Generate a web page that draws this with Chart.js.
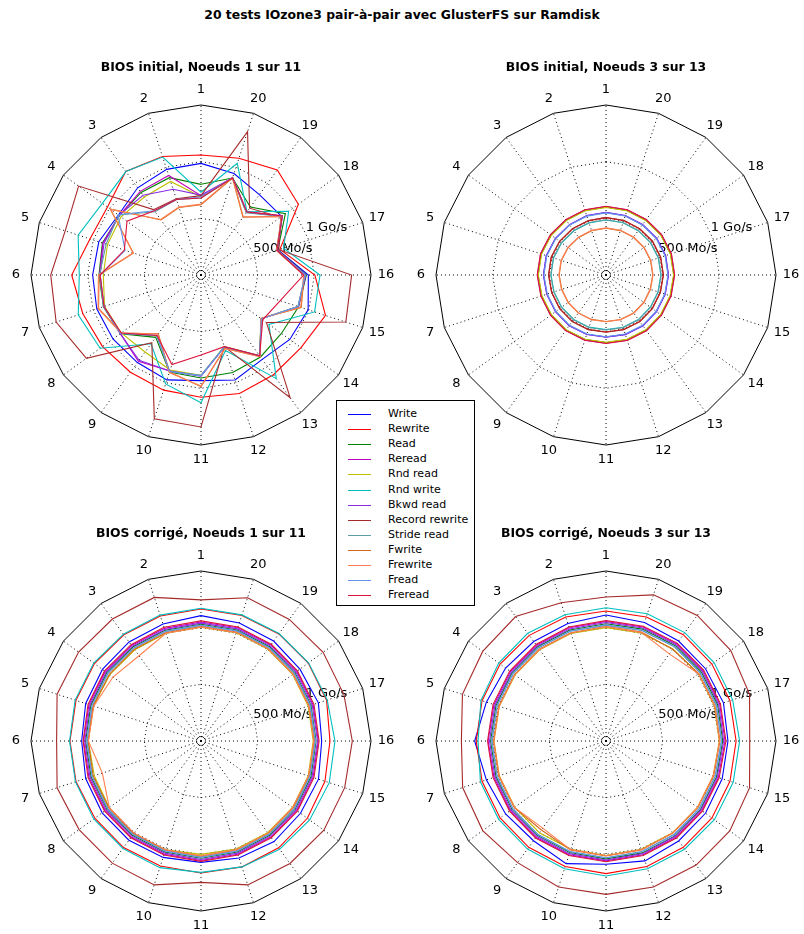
<!DOCTYPE html>
<html lang="fr">
<head>
<meta charset="UTF-8" />
<title>IOzone3 pair-à-pair GlusterFS</title>
<script src="https://cdn.jsdelivr.net/npm/chart.js"></script>
<style>
  body { margin: 0; background: #fff; font-family: "DejaVu Sans", sans-serif; }
  #page { position: relative; width: 804px; height: 934px; overflow: hidden; }
  canvas { position: absolute; }
  .title { position: absolute; width: 400px; text-align: center; font-weight: bold; font-size: 12.4px; line-height: 14px; z-index: 2; }
  #legend { position: absolute; left: 336px; top: 400px; width: 137px; height: 204px; border: 1px solid #000; background: #fff; z-index: 3; font-size: 11px; }
  #legend .row { position: absolute; left: 0; height: 14px; line-height: 14px; }
  #legend .swatch { position: absolute; left: 11px; top: 7px; width: 23px; height: 1px; }
  #legend .txt { position: absolute; left: 51px; top: 0; white-space: nowrap; }
</style>
</head>
<body>
<div id="page">
  <div class="title" style="left:202px; top:8px;">20 tests IOzone3 pair-à-pair avec GlusterFS sur Ramdisk</div>
  <div class="title" style="left:1px; top:60px;">BIOS initial, Noeuds 1 sur 11</div>
  <div class="title" style="left:406px; top:60px;">BIOS initial, Noeuds 3 sur 13</div>
  <div class="title" style="left:1px; top:526px;">BIOS corrigé, Noeuds 1 sur 11</div>
  <div class="title" style="left:406px; top:526px;">BIOS corrigé, Noeuds 3 sur 13</div>
  <canvas id="c1" width="420" height="420" style="left:-9px; top:65px;"></canvas>
  <canvas id="c2" width="420" height="420" style="left:396px; top:65px;"></canvas>
  <canvas id="c3" width="420" height="420" style="left:-9px; top:531px;"></canvas>
  <canvas id="c4" width="420" height="420" style="left:396px; top:531px;"></canvas>
  <div id="legend"></div>
</div>

<script>
// tests 1..20 (axes), series and throughput in Mo/s
var tests = ["1","2","3","4","5","6","7","8","9","10","11","12","13","14","15","16","17","18","19","20"];
var series = ["Write","Rewrite","Read","Reread","Rnd read","Rnd write","Bkwd read","Record rewrite","Stride read","Fwrite","Frewrite","Fread","Freread"];
var colors = ["#0000ff","#ff0000","#008000","#bf00bf","#bfbf00","#00bfbf","#8a2be2","#a52a2a","#5f9ea0","#d2691e","#ff7f50","#6495ed","#dc143c"];
var rTicks = [0, 40, 500, 1000, 1500];
var rTickText = {500: "500 Mo/s", 1000: "1 Go/s"};

// BIOS initial, Noeuds 1 sur 11 (one row per series, tests 1..20)
var initial_1_11 = [
  [985, 980, 951, 901, 948, 956, 967, 960, 955, 973, 932, 974, 920, 968, 994, 947, 715, 880, 876, 942],
  [1059, 1100, 1130, 1020, 1030, 1141, 1097, 1074, 1060, 1068, 1079, 1100, 1088, 1091, 1155, 1005, 732, 1062, 1145, 1083],
  [800, 903, 900, 890, 915, 900, 905, 880, 680, 900, 909, 904, 894, 877, 905, 930, 712, 920, 741, 900],
  [700, 923, 912, 892, 910, 895, 900, 880, 940, 890, 892, 668, 882, 656, 905, 925, 708, 888, 690, 902],
  [690, 868, 850, 872, 868, 862, 895, 870, 840, 882, 885, 665, 880, 655, 900, 920, 705, 885, 682, 898],
  [730, 1094, 1128, 1076, 1140, 1074, 1139, 1100, 750, 1010, 1128, 700, 1130, 741, 1054, 1050, 766, 956, 690, 1036],
  [705, 795, 870, 895, 900, 890, 900, 880, 930, 890, 890, 668, 882, 658, 902, 922, 708, 886, 685, 900],
  [700, 706, 713, 1335, 1260, 1326, 1344, 1250, 738, 1333, 1341, 665, 1338, 714, 1344, 1329, 722, 870, 729, 1329],
  [680, 700, 690, 900, 880, 895, 905, 875, 665, 895, 885, 665, 880, 655, 900, 920, 705, 880, 680, 900],
  [620, 626, 600, 990, 627, 900, 950, 870, 641, 900, 985, 680, 890, 650, 930, 910, 700, 880, 630, 900],
  [625, 630, 605, 985, 630, 905, 955, 872, 645, 905, 980, 685, 892, 652, 925, 905, 702, 878, 635, 905],
  [690, 700, 700, 905, 704, 890, 900, 878, 660, 895, 890, 668, 882, 658, 900, 918, 706, 884, 685, 905],
  [680, 700, 700, 807, 711, 890, 900, 870, 660, 830, 706, 665, 880, 673, 735, 905, 706, 885, 688, 902]
];

// BIOS initial, Noeuds 3 sur 13
var initial_3_13 = [
  [551, 549, 547, 550, 553, 551, 548, 549, 552, 550, 547, 551, 553, 549, 548, 550, 552, 551, 548, 550],
  [506, 504, 503, 505, 507, 505, 503, 504, 506, 505, 503, 505, 507, 504, 503, 505, 506, 505, 504, 505],
  [600, 598, 597, 599, 601, 600, 597, 598, 600, 599, 597, 600, 601, 598, 597, 599, 600, 600, 598, 599],
  [605, 603, 602, 604, 606, 605, 602, 603, 605, 604, 602, 605, 606, 603, 602, 604, 605, 605, 603, 604],
  [597, 595, 594, 596, 598, 597, 594, 595, 597, 596, 594, 597, 598, 595, 594, 596, 597, 597, 595, 596],
  [485, 483, 482, 484, 486, 485, 482, 483, 485, 484, 482, 485, 486, 483, 482, 484, 485, 485, 483, 484],
  [553, 551, 549, 552, 555, 553, 550, 551, 554, 552, 549, 553, 555, 551, 550, 552, 554, 553, 550, 552],
  [508, 506, 505, 507, 509, 508, 505, 506, 508, 507, 505, 508, 509, 506, 505, 507, 508, 508, 506, 507],
  [488, 486, 485, 487, 489, 488, 485, 486, 488, 487, 485, 488, 489, 486, 485, 487, 488, 488, 486, 487],
  [413, 411, 410, 412, 414, 413, 410, 411, 413, 412, 410, 413, 414, 411, 410, 412, 413, 413, 411, 412],
  [416, 414, 413, 415, 417, 416, 413, 414, 416, 415, 413, 416, 417, 414, 413, 415, 416, 416, 414, 415],
  [548, 546, 545, 547, 549, 548, 545, 546, 548, 547, 545, 548, 549, 546, 545, 547, 548, 548, 546, 547],
  [607, 605, 604, 606, 608, 607, 604, 605, 607, 606, 604, 607, 608, 605, 604, 606, 607, 607, 605, 606]
];

// BIOS corrigé, Noeuds 1 sur 11
var corrige_1_11 = [
  [1106, 1085, 1080, 1075, 1070, 1053, 1070, 1078, 1082, 1080, 1071, 1085, 1097, 1085, 1090, 1065, 1089, 1079, 1090, 1095],
  [1165, 1160, 1158, 1162, 1160, 1156, 1160, 1158, 1162, 1160, 1165, 1168, 1165, 1160, 1150, 1138, 1165, 1170, 1168, 1165],
  [1030, 1028, 1025, 1026, 1022, 1018, 1020, 1025, 1028, 1030, 1035, 1030, 1028, 1025, 1020, 1015, 1020, 1025, 1028, 1030],
  [1050, 1045, 1042, 1045, 1040, 1035, 1040, 1045, 1048, 1050, 1055, 1050, 1048, 1045, 1040, 1035, 1040, 1045, 1048, 1050],
  [1003, 1000, 995, 995, 998, 994, 990, 1000, 1015, 1010, 1000, 1002, 1000, 998, 995, 990, 995, 1000, 1002, 1005],
  [1171, 1168, 1165, 1170, 1168, 1160, 1165, 1170, 1172, 1175, 1159, 1168, 1180, 1185, 1190, 1182, 1171, 1173, 1172, 1170],
  [1040, 1035, 1032, 1035, 1030, 1025, 1030, 1035, 1038, 1040, 1045, 1040, 1038, 1035, 1030, 1028, 1032, 1035, 1038, 1040],
  [1245, 1332, 1330, 1335, 1335, 1274, 1335, 1330, 1332, 1335, 1247, 1335, 1336, 1340, 1333, 1335, 1326, 1332, 1326, 1329],
  [1020, 1015, 1012, 1015, 1010, 1005, 1010, 1015, 1018, 1020, 1025, 1020, 1018, 1015, 1010, 1008, 1012, 1015, 1018, 1020],
  [1010, 1005, 1000, 1000, 1000, 995, 1000, 1005, 1010, 1012, 1015, 1010, 1008, 1005, 1000, 998, 1002, 1005, 1008, 1010],
  [1005, 1000, 930, 960, 995, 994, 915, 1000, 1005, 1010, 1012, 1008, 1005, 1000, 998, 995, 1000, 1003, 1005, 1008],
  [1022, 1018, 1015, 1018, 1012, 1008, 1012, 1018, 1020, 1022, 1028, 1022, 1020, 1018, 1012, 1010, 1015, 1018, 1020, 1022],
  [1060, 1055, 1050, 1052, 1048, 1040, 1048, 1052, 1055, 1058, 1062, 1058, 1055, 1052, 1048, 1042, 1048, 1052, 1055, 1058]
];

// BIOS corrigé, Noeuds 3 sur 13
var corrige_3_13 = [
  [1112, 1090, 1085, 1095, 1110, 1159, 1110, 1095, 1088, 1138, 1088, 1112, 1090, 1085, 1078, 1076, 1090, 1085, 1090, 1100],
  [1147, 1150, 1152, 1155, 1150, 1145, 1150, 1155, 1160, 1165, 1170, 1165, 1160, 1155, 1150, 1148, 1150, 1155, 1160, 1150],
  [1035, 1030, 1028, 1025, 1020, 1018, 1020, 1025, 1028, 1035, 1040, 1038, 1035, 1030, 1025, 1030, 1035, 1038, 1040, 1038],
  [1055, 1050, 1045, 1042, 1040, 1040, 1040, 1045, 1050, 1055, 1058, 1055, 1050, 1045, 1042, 1050, 1055, 1058, 1060, 1058],
  [1000, 998, 995, 992, 990, 988, 990, 995, 1000, 1005, 1010, 1005, 1000, 998, 995, 1000, 1005, 1008, 1005, 1002],
  [1176, 1172, 1175, 1170, 1160, 1129, 1165, 1172, 1178, 1185, 1191, 1185, 1180, 1182, 1180, 1179, 1175, 1178, 1182, 1180],
  [1045, 1040, 1035, 1032, 1030, 1028, 1030, 1035, 1040, 1045, 1050, 1045, 1040, 1035, 1032, 1038, 1045, 1048, 1050, 1048],
  [1271, 1282, 1357, 1345, 1332, 1276, 1330, 1345, 1327, 1354, 1353, 1354, 1353, 1350, 1332, 1268, 1332, 1360, 1370, 1356],
  [1020, 1018, 1015, 1012, 1010, 1005, 1010, 1015, 1020, 1025, 1030, 1025, 1020, 1015, 1012, 1018, 1022, 1025, 1028, 1025],
  [1010, 1005, 1000, 998, 995, 992, 995, 1000, 970, 1010, 1015, 1010, 1005, 1000, 998, 1005, 1010, 1012, 1000, 1010],
  [1008, 1002, 998, 995, 992, 990, 992, 998, 950, 1008, 1012, 1008, 1002, 998, 995, 1002, 1008, 1010, 950, 1008],
  [1025, 1020, 1018, 1015, 1012, 1010, 1012, 1018, 1022, 1028, 1032, 1028, 1022, 1018, 1015, 1020, 1025, 1028, 1030, 1028],
  [1062, 1058, 1052, 1050, 1048, 1045, 1048, 1052, 1058, 1062, 1065, 1062, 1058, 1052, 1050, 1058, 1062, 1065, 1068, 1065]
];

// axes run counter-clockwise (1 at top, 20 on its right); Chart.js goes clockwise
var axisOrder = tests.map(function (t, i) { return (tests.length - i) % tests.length; });

var axisText = {
  id: "axisText",
  beforeDatasetsDraw: function (chart) {
    var r = chart.scales.r, ctx = chart.ctx;
    var a = 22.5 * Math.PI / 180;
    ctx.save();
    ctx.font = '13px "DejaVu Sans"';
    ctx.fillStyle = "#000";
    ctx.textAlign = "left";
    ctx.textBaseline = "middle";
    Object.keys(rTickText).forEach(function (v) {
      var d = r.getDistanceFromCenterForValue(+v);
      ctx.fillText(rTickText[v], r.xCenter + d * Math.cos(a), r.yCenter - d * Math.sin(a) - 4.5);
    });
    ctx.restore();
  },
  afterDraw: function (chart) {
    var r = chart.scales.r, ctx = chart.ctx;
    ctx.save();
    ctx.font = '13px "DejaVu Sans"';
    ctx.fillStyle = "#000";
    ctx.textAlign = "center";
    ctx.textBaseline = "middle";
    chart.data.labels.forEach(function (lab, i) {
      var p = r.getPointPosition(i, r.drawingArea + 15);
      ctx.fillText(lab, p.x, p.y);
    });
    ctx.restore();
  }
};

function makeRadar(id, rows) {
  var datasets = rows.map(function (row, s) {
    return {
      label: series[s],
      data: axisOrder.map(function (k) { return row[k]; }),
      borderColor: colors[s],
      borderWidth: 1.1,
      fill: false,
      pointRadius: 0,
      order: series.length - s
    };
  });
  new Chart(document.getElementById(id).getContext("2d"), {
    type: "radar",
    data: { labels: axisOrder.map(function (k) { return tests[k]; }), datasets: datasets },
    plugins: [axisText],
    options: {
      responsive: false,
      animation: false,
      layout: { padding: 40 },
      elements: { line: { tension: 0 } },
      plugins: { legend: { display: false }, tooltip: { enabled: false } },
      scales: {
        r: {
          min: 0,
          max: 1500,
          startAngle: 0,
          afterBuildTicks: function (scale) {
            scale.ticks = rTicks.map(function (v) { return { value: v }; });
          },
          ticks: { display: false },
          pointLabels: { display: false },
          grid: {
            circular: false,
            color: "#000",
            lineWidth: 1
          },
          border: {
            dash: function (ctx) { return ctx.tick && ctx.tick.value === 1500 ? [] : [1, 3]; }
          },
          angleLines: { color: "#000", lineWidth: 1, borderDash: [1, 3] }
        }
      }
    }
  });
}

makeRadar("c1", initial_1_11);
makeRadar("c2", initial_3_13);
makeRadar("c3", corrige_1_11);
makeRadar("c4", corrige_3_13);

// shared legend
var legend = document.getElementById("legend");
series.forEach(function (name, s) {
  var row = document.createElement("div");
  row.className = "row";
  row.style.top = Math.round(6 + s * 15.1) + "px";
  row.style.width = "137px";
  row.innerHTML = '<span class="swatch" style="background:' + colors[s] + '"></span><span class="txt">' + name + "</span>";
  legend.appendChild(row);
});
</script>
</body>
</html>
